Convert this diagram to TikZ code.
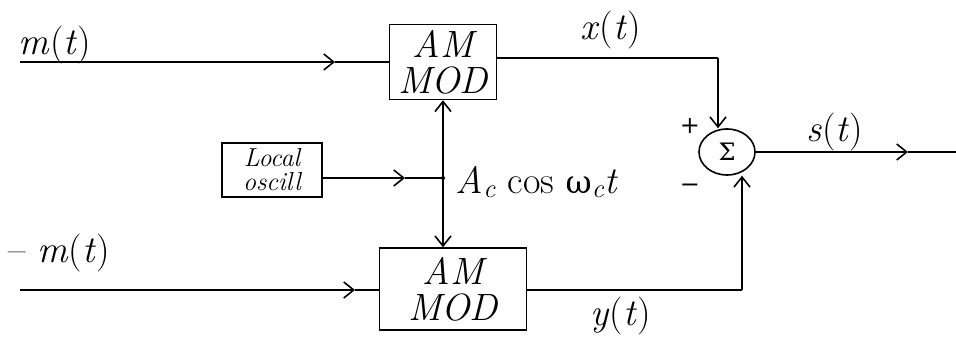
\documentclass[tikz,border=0pt]{standalone}
\usepackage{fontspec}
\newfontfamily\gkfont{DejaVu Serif}
\usetikzlibrary{arrows.meta,shapes.geometric}
\begin{document}
\begin{tikzpicture}[x=1pt,y=-1pt,
  line width=1.6pt,
  blk/.style={draw,rectangle,line width=1.6pt,inner sep=0pt,align=center,font=\fontsize{38}{36}\selectfont\itshape},
  lbl/.style={font=\fontsize{38}{38}\selectfont,inner sep=0pt},
  sig/.style={-{Straight Barb[length=10pt,width=16pt]}},
]
\useasboundingbox (0,0) rectangle (956,339);
% blocks
\node[blk,minimum width=107pt,minimum height=75pt] (mod1) at (443,62) {AM\\MOD};
\node[blk,minimum width=147pt,minimum height=82pt] (mod2) at (453,289) {AM\\MOD};
\node[blk,minimum width=100pt,minimum height=54pt,font=\fontsize{26}{24}\selectfont\itshape] (osc) at (272,170) {Local\\oscill};
\node[draw,ellipse,line width=1.6pt,minimum width=56pt,minimum height=46pt,inner sep=0pt,font=\gkfont\fontsize{24}{24}\selectfont] (sum) at (727,152) {Σ};
% coordinates
\coordinate (in1) at (20,62);
\coordinate (in2) at (20,290);
\coordinate (out) at (956,152);
\coordinate (jn) at (443,178);
\coordinate (c1) at (718,58);
\coordinate (c2) at (742,290);
% input lines
\draw[sig] (in1) -- (335,62);
\draw (335,62) -- (mod1.west |- in1);
\draw[sig] (in2) -- (355,290);
\draw (355,290) -- (mod2.west |- in2);
% oscillator
\draw[sig] (osc.east |- jn) -- (405,178);
\draw (405,178) -- (jn);
\draw[sig] (jn) -- (mod1.south);
\draw[sig] (jn) -- (jn |- mod2.north);
\fill (jn) circle (2pt);
% outputs to summer
\draw (mod1.east |- c1) -- (c1);
\draw[sig] (c1) -- (c1 |- sum.north);
\draw (mod2.east |- c2) -- (c2);
\draw[sig] (c2) -- (c2 |- sum.south);
\draw[sig] (sum.east) -- (908,152);
\draw (908,152) -- (out);
% labels
\node[lbl,anchor=base west] (lm) at (18,55) {\textit{m}(\textit{t})};
\node[lbl,anchor=base west] (lmm) at (8,262) {\textendash\ \textit{m}(\textit{t})};
\node[lbl,anchor=base west] (lx) at (580,40) {\textit{x}(\textit{t})};
\node[lbl,anchor=base west] (ly) at (590,325) {\textit{y}(\textit{t})};
\node[lbl,anchor=base west] (ls) at (806,142) {\textit{s}(\textit{t})};
\node[lbl,anchor=base west] (lac) at (455,194) {\textit{A}\textsubscript{\textit{c}} cos {\gkfont\fontsize{32}{32}\selectfont ω}\textsubscript{\textit{c}}\textit{t}};
\node[font=\gkfont\fontsize{24}{24}\selectfont] (lp) at (690,126) {+};
\node[font=\gkfont\fontsize{24}{24}\selectfont] (ln) at (690,188) {−};
\end{tikzpicture}
\end{document}
